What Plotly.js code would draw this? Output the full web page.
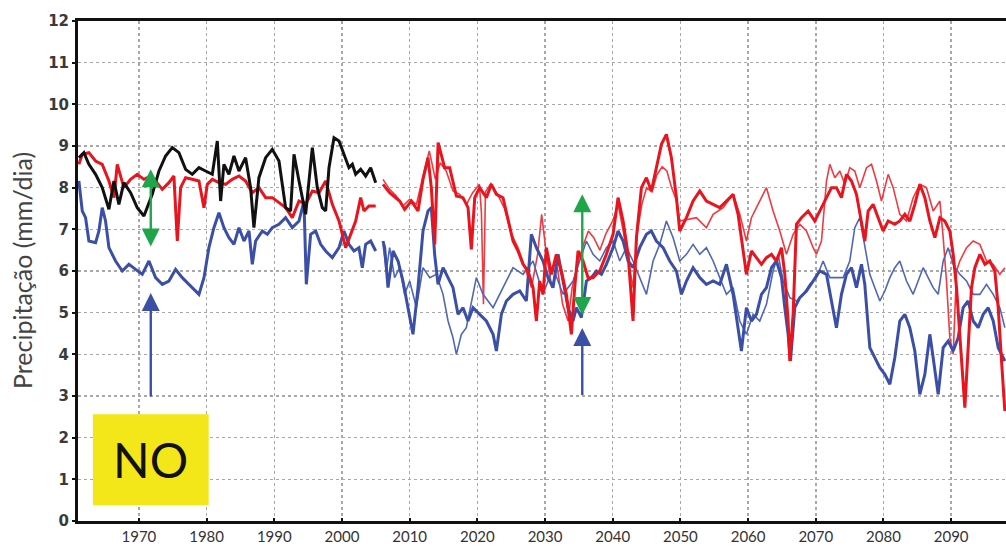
<!DOCTYPE html>
<html>
<head>
<meta charset="utf-8">
<script src="https://cdn.plot.ly/plotly-3.0.1.min.js"></script>
<style>html,body{margin:0;padding:0;background:#fff;}#chart{width:1006px;height:546px;}</style>
</head>
<body>
<div id="chart"></div>
<script>
// Observed (black), 1961-2005
const obsYears = [1961.13,1961.87,1962.61,1963.60,1964.58,1965.57,1966.31,1967.04,1967.78,1968.77,1969.75,1970.74,1971.97,1972.96,1973.94,1974.93,1975.91,1976.90,1977.88,1978.87,1979.85,1980.84,1981.58,1982.07,1982.56,1983.30,1984.04,1984.78,1985.76,1986.50,1986.99,1987.73,1988.72,1989.70,1990.69,1991.67,1992.41,1992.91,1993.65,1994.63,1995.62,1996.35,1997.09,1997.59,1998.08,1998.82,1999.56,2000.30,2001.03,2001.53,2002.02,2002.76,2003.50,2004.24,2004.98];
const obsValues = [8.72,8.84,8.56,8.32,8.00,7.48,8.16,7.60,8.12,7.88,7.52,7.32,7.84,8.40,8.76,8.96,8.84,8.44,8.32,8.48,8.40,8.32,9.12,7.68,8.56,8.32,8.76,8.40,8.72,8.00,7.04,8.24,8.72,8.92,8.64,7.52,7.44,8.80,8.16,7.36,8.96,8.00,7.52,7.44,8.48,9.20,9.12,8.80,8.48,8.56,8.32,8.44,8.28,8.48,8.12];

// Model historical, red
const redHistYears = [1961.13,1961.63,1962.61,1963.60,1964.58,1965.57,1966.31,1966.80,1967.78,1968.77,1969.75,1970.74,1971.72,1972.46,1973.45,1974.43,1975.17,1975.67,1976.16,1976.90,1977.88,1978.87,1979.61,1980.10,1980.84,1981.82,1982.81,1983.79,1984.78,1985.76,1986.75,1987.73,1988.72,1989.70,1990.69,1991.67,1992.66,1993.65,1994.63,1995.62,1996.60,1997.59,1998.57,1999.56,2000.54,2001.28,2002.02,2002.76,2003.25,2003.99,2004.98];
const redHistValues = [8.56,8.80,8.84,8.64,8.56,8.16,7.76,8.56,8.00,8.20,8.32,8.20,8.28,8.16,7.96,8.12,8.28,6.72,8.00,8.24,8.20,8.16,7.52,8.08,8.20,8.12,8.08,8.20,8.28,8.16,7.88,8.00,7.76,7.76,7.64,7.52,7.28,7.68,7.60,7.92,7.88,8.16,7.60,7.20,6.56,6.88,7.20,7.76,7.44,7.56,7.56];

// Model historical, blue
const blueHistYears = [1961.13,1961.63,1962.12,1962.61,1963.60,1964.09,1964.58,1965.07,1965.57,1966.55,1967.54,1968.52,1969.51,1970.49,1971.48,1972.46,1973.45,1974.43,1975.42,1976.40,1977.39,1978.87,1979.61,1980.34,1981.08,1981.82,1982.56,1983.30,1984.04,1984.78,1985.52,1986.26,1986.75,1987.24,1988.23,1988.97,1989.70,1990.69,1991.67,1992.66,1993.65,1994.38,1994.73,1995.37,1996.11,1996.85,1997.59,1998.57,1999.56,2000.30,2001.03,2001.77,2002.51,2003.00,2003.50,2004.24,2004.98];
const blueHistValues = [8.16,7.44,7.28,6.72,6.68,6.96,7.52,7.20,6.56,6.24,6.00,6.16,6.04,5.92,6.24,5.84,5.68,5.76,6.04,5.84,5.68,5.44,5.84,6.56,7.04,7.40,7.04,6.80,6.64,7.04,6.72,6.96,6.16,6.72,6.96,6.88,7.04,7.12,7.28,7.04,7.20,7.68,5.68,6.88,6.96,6.64,6.48,6.32,6.56,6.96,6.64,6.48,6.56,6.08,6.64,6.72,6.48];

// Future, red thick
const redFutAYears = [2006.06,2007.04,2008.52,2009.26,2010.25,2011.23,2011.97,2012.71,2013.20,2013.70,2014.20,2015.17,2015.91,2016.90,2017.88,2018.62,2019.11,2019.61,2020.34,2021.33,2022.07,2022.81,2023.79,2024.53,2025.27,2026.01,2026.75,2027.49,2028.23,2028.72,2029.21,2029.70,2030.20,2030.94,2031.67,2032.41,2033.15,2033.89,2034.38,2034.88,2035.62,2036.35,2037.09,2038.08,2039.06,2040.05,2040.79,2041.53,2042.27,2043.00,2043.50,2044.24,2044.98,2045.71,2046.45,2047.19,2047.93,2048.67,2049.41,2049.90,2050.89,2051.87,2052.86,2053.84,2054.83,2055.81,2056.80,2057.78,2058.52,2059.26,2059.75,2060.49,2061.23,2061.97,2062.71,2063.45,2064.19,2064.93,2065.42,2065.91,2066.16,2066.65,2067.14,2067.88,2068.87,2069.85,2070.84,2071.58,2072.32,2073.05,2073.79,2074.53,2075.27,2076.01,2076.75,2077.24,2077.73,2078.47,2079.21,2079.95,2080.69,2081.67,2082.41,2083.15,2083.89,2084.63,2085.37,2086.11,2086.85,2087.59,2088.33,2089.06,2089.80,2090.30,2090.79,2091.28,2092.02,2092.51,2093.00,2093.50,2094.24,2094.98,2095.71,2096.45,2096.95,2097.44,2097.93];
const redFutAValues = [8.08,7.88,7.68,7.48,7.68,7.44,8.20,8.72,8.00,6.64,9.08,8.48,8.48,7.80,7.76,7.52,6.52,7.76,8.00,7.76,8.08,7.84,7.76,7.20,6.72,6.48,6.16,6.00,5.60,4.80,5.76,5.44,6.56,5.92,6.40,6.00,5.44,4.48,5.60,6.48,6.24,5.84,5.84,6.00,6.40,6.88,7.76,7.20,6.40,4.80,6.80,8.00,8.24,7.92,8.48,9.04,9.28,8.72,7.76,6.96,7.28,7.68,7.92,7.68,7.60,7.52,7.68,7.84,7.36,6.56,5.92,6.48,6.32,6.16,6.32,6.40,6.24,6.56,5.92,4.80,3.84,4.96,7.12,7.28,7.44,7.20,7.52,7.76,8.00,8.00,7.76,8.32,8.16,7.84,7.20,6.72,7.44,7.60,7.28,6.96,7.20,7.12,7.20,7.36,7.20,7.60,8.08,7.76,7.20,6.80,7.28,7.20,6.96,6.40,5.60,4.40,2.72,4.16,5.60,6.08,6.40,6.16,6.24,6.00,5.12,3.84,2.64];

// Future, red thin
const redFutBYears = [2006.06,2007.04,2008.03,2009.01,2010.00,2011.00,2012.00,2012.90,2013.80,2014.50,2015.40,2016.40,2017.40,2018.40,2019.30,2020.30,2020.60,2020.90,2021.20,2022.00,2023.00,2024.00,2025.00,2026.00,2027.00,2028.00,2028.90,2029.50,2030.20,2031.00,2031.80,2032.60,2033.40,2034.00,2034.90,2035.60,2036.40,2037.20,2038.10,2039.00,2040.00,2040.80,2041.50,2042.30,2043.00,2043.60,2044.30,2045.00,2045.80,2046.50,2047.30,2048.00,2048.70,2049.40,2049.90,2052.36,2053.84,2054.83,2056.31,2057.78,2058.77,2059.75,2060.49,2061.23,2062.71,2063.69,2064.68,2065.67,2066.65,2067.64,2068.62,2069.61,2070.10,2070.84,2071.58,2072.07,2072.81,2073.55,2074.29,2075.02,2075.76,2076.50,2077.49,2078.23,2078.97,2079.70,2080.69,2081.43,2082.41,2083.40,2084.38,2085.37,2086.35,2087.34,2088.33,2088.82,2089.31,2089.80,2090.30,2090.79,2091.28,2092.27,2093.25,2094.24,2095.22,2096.21,2097.19,2097.93];
const redFutBValues = [8.20,7.96,7.80,7.56,7.72,7.60,8.30,8.88,8.20,8.60,8.40,7.92,7.84,7.60,7.88,8.08,7.40,5.20,7.90,8.10,7.84,7.50,6.90,6.56,6.10,5.60,6.40,7.36,6.40,5.60,6.10,5.20,4.80,5.60,6.20,6.60,6.96,6.80,6.50,6.90,7.20,7.60,7.00,6.20,5.60,6.90,7.60,8.00,7.90,8.30,8.50,8.40,8.00,7.70,7.20,7.28,7.04,7.36,7.52,7.84,7.36,6.72,7.28,7.52,8.00,7.44,6.96,6.40,6.88,7.12,6.96,6.56,6.40,6.72,8.16,8.56,8.24,8.40,8.08,8.48,8.40,8.00,8.48,8.56,8.16,7.68,8.32,8.00,7.36,7.20,7.76,8.08,8.00,7.44,7.68,6.80,5.76,4.40,4.00,6.00,6.24,6.56,6.72,6.64,6.24,6.16,5.92,6.08];

// Future, blue thick
const blueFutAYears = [2006.06,2006.31,2006.80,2007.54,2008.28,2009.01,2009.75,2010.49,2011.23,2011.97,2012.71,2013.20,2013.69,2014.19,2014.93,2015.67,2016.40,2017.14,2017.88,2018.62,2019.36,2020.34,2021.33,2022.32,2022.81,2023.55,2024.29,2025.27,2026.26,2027.24,2027.98,2028.72,2029.70,2030.44,2031.18,2031.92,2032.66,2033.40,2034.14,2034.63,2035.37,2036.11,2036.85,2037.59,2038.33,2039.06,2040.05,2040.79,2041.53,2042.27,2043.00,2043.99,2044.98,2045.71,2046.45,2047.44,2048.42,2049.41,2050.15,2050.89,2051.87,2052.86,2053.84,2054.83,2055.81,2056.80,2057.78,2058.52,2059.01,2059.75,2060.49,2061.23,2061.97,2062.71,2063.45,2064.19,2064.93,2065.42,2065.91,2066.26,2066.90,2067.64,2068.62,2069.61,2070.59,2071.58,2072.32,2073.05,2073.79,2074.53,2075.27,2076.01,2076.75,2077.24,2077.98,2078.72,2079.46,2080.20,2080.94,2081.67,2082.41,2083.15,2083.89,2084.63,2085.37,2086.11,2086.85,2087.34,2088.08,2088.82,2089.56,2090.30,2091.03,2091.77,2092.51,2093.25,2093.99,2094.73,2095.47,2096.21,2096.95,2097.93];
const blueFutAValues = [6.72,6.56,5.60,6.48,6.24,5.76,5.12,4.48,5.60,6.96,7.44,7.52,6.40,5.68,6.08,5.84,5.60,4.96,5.12,4.80,5.12,4.96,4.80,4.48,4.08,4.96,5.28,5.44,5.52,5.28,6.88,6.56,6.24,5.84,5.60,6.40,5.76,5.12,4.80,5.12,4.88,5.76,5.84,6.00,5.92,6.16,6.56,6.96,6.72,6.24,6.08,6.56,6.88,6.96,6.72,6.56,6.24,6.00,5.44,5.76,6.08,5.84,5.68,5.76,5.68,6.16,5.44,4.64,4.08,5.12,4.80,4.96,5.44,5.60,6.08,6.24,5.84,5.12,4.48,3.84,5.12,5.36,5.52,5.76,6.00,5.92,5.28,4.64,5.44,5.92,6.08,5.60,6.16,5.68,4.16,3.92,3.68,3.52,3.28,3.92,4.80,4.96,4.64,4.08,3.04,3.52,4.48,3.92,3.04,4.16,4.32,4.08,4.40,5.12,5.28,4.80,4.64,4.96,5.12,4.80,4.16,3.84];

// Future, blue thin
const blueFutBYears = [2006.06,2006.55,2007.04,2007.78,2008.52,2009.26,2010.00,2010.99,2011.97,2012.96,2013.94,2014.93,2015.67,2016.40,2016.90,2017.64,2018.37,2019.11,2019.85,2020.84,2022.32,2023.79,2025.27,2026.75,2028.23,2029.70,2031.18,2032.66,2034.14,2035.12,2036.11,2037.09,2038.08,2039.06,2040.05,2041.03,2042.02,2043.00,2043.99,2044.98,2045.96,2046.95,2047.93,2048.92,2049.90,2050.89,2051.87,2052.86,2053.84,2054.83,2055.81,2056.80,2057.78,2058.77,2059.75,2060.74,2061.72,2062.71,2063.69,2064.43,2065.17,2066.16,2067.14,2068.13,2069.11,2070.10,2071.08,2072.07,2073.05,2074.04,2075.02,2075.76,2076.50,2077.24,2077.98,2078.72,2079.46,2080.20,2080.94,2081.67,2082.41,2083.40,2084.38,2085.12,2085.86,2086.60,2087.34,2088.08,2088.82,2089.56,2090.30,2091.28,2092.27,2093.25,2094.24,2095.22,2096.21,2097.19,2097.93];
const blueFutBValues = [6.64,6.00,6.56,5.84,6.08,5.44,5.76,5.12,6.08,5.84,5.92,5.44,4.80,4.40,4.00,4.48,4.64,5.28,5.84,5.44,5.12,5.60,6.08,5.92,6.24,5.44,6.08,5.44,5.76,6.24,6.72,6.40,6.24,6.56,6.72,6.24,6.56,6.24,5.84,5.44,6.24,6.64,7.20,6.80,6.24,6.40,6.64,6.40,6.56,6.24,5.84,5.44,5.60,4.80,4.48,4.96,4.80,5.20,6.00,6.40,5.76,5.36,5.28,5.44,5.68,5.84,6.24,5.84,5.84,5.84,6.24,7.04,7.28,6.64,5.92,5.60,5.28,5.52,5.84,6.08,6.24,5.76,5.44,5.76,6.08,5.84,5.60,5.44,6.24,6.56,6.16,5.92,5.76,5.44,5.44,5.68,5.44,5.12,4.64];

const yTicks = [0,1,2,3,4,5,6,7,8,9,10,11,12];
const xTicks = [1970,1980,1990,2000,2010,2020,2030,2040,2050,2060,2070,2080,2090];
const regionLabel = "NO";
const yTitle = "Precipitação (mm/dia)";

const RED = '#e8141e', BLUE = '#3b4fa6', BLACK = '#111111';
const REDTHIN = '#ee3b42', BLUETHIN = '#5066b8';

function tr(x, y, color, w) {
  return {x: x, y: y, type: 'scatter', mode: 'lines', line: {color: color, width: w}, hoverinfo: 'skip'};
}
const data = [
  tr(redFutBYears, redFutBValues, REDTHIN, 1.6),
  tr(blueFutBYears, blueFutBValues, BLUETHIN, 1.6),
  tr(blueHistYears, blueHistValues, BLUE, 3),
  tr(blueFutAYears, blueFutAValues, BLUE, 3),
  tr(redHistYears, redHistValues, RED, 3),
  tr(redFutAYears, redFutAValues, RED, 3),
  tr(obsYears, obsValues, BLACK, 3)
];

function arrow(x, y0, y1, color, dbl) {
  const a = {x: x, y: y1, ax: x, ay: y0, xref: 'x', yref: 'y', axref: 'x', ayref: 'y',
    text: '', showarrow: true, arrowhead: 2, arrowsize: 1.5, arrowwidth: 2.4, arrowcolor: color,
    standoff: 0, startstandoff: 0};
  if (dbl) { a.arrowside = 'end+start'; a.startarrowhead = 2; a.startarrowsize = 1.5; }
  return a;
}

const layout = {
  width: 1006, height: 546,
  margin: {l: 78, r: 0, t: 21, b: 25, pad: 0},
  paper_bgcolor: '#ffffff', plot_bgcolor: '#ffffff',
  showlegend: false, hovermode: false,
  xaxis: {
    range: [1961, 2098.1], tickvals: xTicks, ticktext: xTicks.map(String),
    showgrid: true, gridcolor: '#a8a8a8', gridwidth: 1.5, griddash: 'dot',
    showline: true, linecolor: '#111', linewidth: 3, mirror: true,
    ticks: 'inside', ticklen: 3, tickwidth: 2, tickcolor: '#111',
    zeroline: false,
    tickfont: {family: 'Lato, "Open Sans", sans-serif', size: 15, color: '#333'}
  },
  yaxis: {
    range: [0, 12], tickvals: yTicks,
    showgrid: true, gridcolor: '#a8a8a8', gridwidth: 1.5, griddash: 'dot',
    showline: true, linecolor: '#111', linewidth: 3,
    ticks: 'outside', ticklen: 3, tickwidth: 2, tickcolor: '#111',
    zeroline: false,
    tickfont: {family: '"DejaVu Sans", sans-serif', size: 15, color: '#3a3a3a', weight: 'bold'}
  },
  shapes: [
    {type: 'rect', xref: 'x', yref: 'y', x0: 1963.2, x1: 1980.3, y0: 0.38, y1: 2.56,
     fillcolor: '#f3e619', line: {width: 0}, layer: 'above'}
  ],
  annotations: [
    {xref: 'x', yref: 'y', x: 1971.75, y: 1.47, text: regionLabel, showarrow: false,
     font: {family: 'Lato, sans-serif', size: 48, color: '#111'}},
    {xref: 'paper', yref: 'paper', x: -0.0603, y: 0.5, text: yTitle, showarrow: false,
     textangle: -90, xanchor: 'center', yanchor: 'middle',
     font: {family: 'Lato, "Open Sans", sans-serif', size: 25, color: '#444'}},
    arrow(1971.75, 6.55, 8.44, '#1fa64a', true),
    arrow(1971.75, 2.95, 5.47, BLUE, false),
    arrow(2035.5, 4.91, 7.84, '#1fa64a', true),
    arrow(2035.5, 2.99, 4.63, BLUE, false)
  ]
};

Plotly.newPlot('chart', data, layout, {staticPlot: true, displayModeBar: false});
</script>
</body>
</html>
